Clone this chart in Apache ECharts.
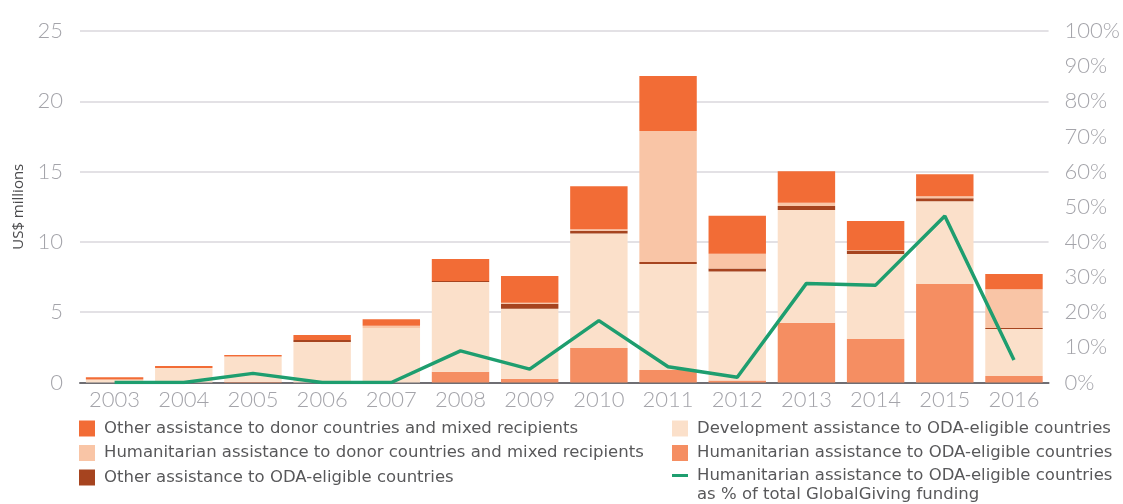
<!DOCTYPE html>
<html>
<head>
<meta charset="utf-8">
<script src="https://cdn.jsdelivr.net/npm/echarts@6/dist/echarts.min.js"></script>
<style>
  html, body { margin: 0; padding: 0; background: #ffffff; }
  #chart { width: 1123px; height: 504px; }
</style>
</head>
<body>
<div id="chart"></div>
<script>
// GlobalGiving funding by type of assistance, US$ millions
const years = ['2003','2004','2005','2006','2007','2008','2009','2010','2011','2012','2013','2014','2015','2016'];

const humanitarianOda   = [0, 0, 0.05, 0, 0, 0.77, 0.26, 2.45, 0.89, 0.15, 4.25, 3.09, 7.0, 0.46];
const developmentOda    = [0.22, 1.03, 1.8, 2.88, 3.87, 6.38, 4.98, 8.15, 7.54, 7.75, 8.02, 6.05, 5.9, 3.34];
const otherOda          = [0, 0, 0, 0.14, 0, 0.07, 0.36, 0.2, 0.14, 0.21, 0.28, 0.24, 0.21, 0.07];
const humanitarianDonor = [0, 0, 0, 0, 0.16, 0, 0.08, 0.1, 9.32, 1.05, 0.23, 0.05, 0.14, 2.77];
const otherDonor        = [0.16, 0.14, 0.11, 0.36, 0.47, 1.56, 1.9, 3.06, 3.91, 2.7, 2.25, 2.06, 1.56, 1.07];

// Humanitarian assistance to ODA-eligible countries as % of total
const humanitarianOdaShare = [0, 0, 2.6, 0, 0, 9.0, 3.8, 17.6, 4.5, 1.5, 28.2, 27.7, 47.4, 6.4];

const leftTicks = { min: 0, max: 25, interval: 5 };
const rightTicks = { min: 0, max: 100, interval: 10 };

const NAMES = {
  otherDonor: 'Other assistance to donor countries and mixed recipients',
  humDonor: 'Humanitarian assistance to donor countries and mixed recipients',
  otherOda: 'Other assistance to ODA-eligible countries',
  devOda: 'Development assistance to ODA-eligible countries',
  humOda: 'Humanitarian assistance to ODA-eligible countries',
  share: 'Humanitarian assistance to ODA-eligible countries '
};
const shareSecondLine = 'as % of total GlobalGiving funding';

const COLORS = {
  otherDonor: '#F26C36',
  humDonor: '#F9C5A6',
  otherOda: '#A6441F',
  devOda: '#FBE0CA',
  humOda: '#F58E62',
  share: '#1E9E6F'
};

const FONT = 'Lato, "Noto Sans", sans-serif';
const LEGEND_FONT = '"DejaVu Sans", "Noto Sans", sans-serif';
const tickText = { color: '#A4A4AA', fontSize: 22, fontFamily: FONT, fontWeight: 300 };
const legendText = {
  color: '#58585A', fontSize: 16.5, fontFamily: LEGEND_FONT, lineHeight: 16,
  padding: [0, 0, 0, 4]
};

function bar(key, data) {
  return {
    name: NAMES[key],
    type: 'bar',
    stack: 'total',
    barWidth: '83%',
    data: data,
    itemStyle: { color: COLORS[key] },
    emphasis: { disabled: true }
  };
}

const chart = echarts.init(document.getElementById('chart'), null, { renderer: 'canvas' });

chart.setOption({
  animation: false,
  textStyle: { fontFamily: FONT },
  grid: { left: 80, right: 70, top: 31, bottom: 121.5, containLabel: false },
  legend: [
    {
      left: 79, top: 420, orient: 'vertical', itemGap: 7.5, padding: 0,
      itemWidth: 16, itemHeight: 16, icon: 'rect', textStyle: legendText,
      selectedMode: false,
      data: [NAMES.otherDonor, NAMES.humDonor, NAMES.otherOda]
    },
    {
      left: 672, top: 420, orient: 'vertical', itemGap: 7.5, padding: 0,
      itemWidth: 16, itemHeight: 16, icon: 'rect', textStyle: legendText,
      selectedMode: false,
      data: [NAMES.devOda, NAMES.humOda]
    },
    {
      left: 672, top: 467, orient: 'vertical', padding: 0,
      itemWidth: 16, itemHeight: 16, textStyle: legendText,
      selectedMode: false,
      icon: 'path://M0,6.5 L16,6.5 L16,9.5 L0,9.5 Z',
      data: [{ name: NAMES.share, itemStyle: { color: COLORS.share } }]
    }
  ],
  graphic: [
    {
      type: 'text', left: 697, top: 486,
      style: { text: shareSecondLine, fill: '#58585A', font: '16.5px ' + LEGEND_FONT }
    }
  ],
  xAxis: {
    type: 'category',
    data: years,
    axisTick: { show: false },
    axisLine: { lineStyle: { color: '#6F6E73', width: 2 } },
    axisLabel: Object.assign({ margin: 6 }, tickText)
  },
  yAxis: [
    {
      type: 'value',
      min: leftTicks.min, max: leftTicks.max, interval: leftTicks.interval,
      name: 'US$ millions',
      nameLocation: 'middle',
      nameGap: 52,
      nameRotate: 90,
      nameTextStyle: { color: '#4A4A4C', fontSize: 15, fontFamily: '"Open Sans", sans-serif' },
      axisLine: { show: false },
      axisTick: { show: false },
      axisLabel: Object.assign({ margin: 17 }, tickText),
      splitLine: { lineStyle: { color: '#DAD7DD', width: 1.5 } }
    },
    {
      type: 'value',
      position: 'right',
      min: rightTicks.min, max: rightTicks.max, interval: rightTicks.interval,
      axisLine: { show: false },
      axisTick: { show: false },
      splitLine: { show: false },
      axisLabel: Object.assign({ margin: 16, formatter: '{value}%' }, tickText)
    }
  ],
  series: [
    bar('humOda', humanitarianOda),
    bar('devOda', developmentOda),
    bar('otherOda', otherOda),
    bar('humDonor', humanitarianDonor),
    bar('otherDonor', otherDonor),
    {
      name: NAMES.share,
      type: 'line',
      yAxisIndex: 1,
      data: humanitarianOdaShare,
      symbol: 'none',
      lineStyle: { color: COLORS.share, width: 3.5 },
      itemStyle: { color: COLORS.share },
      emphasis: { disabled: true },
      z: 5
    }
  ]
});
</script>
</body>
</html>
